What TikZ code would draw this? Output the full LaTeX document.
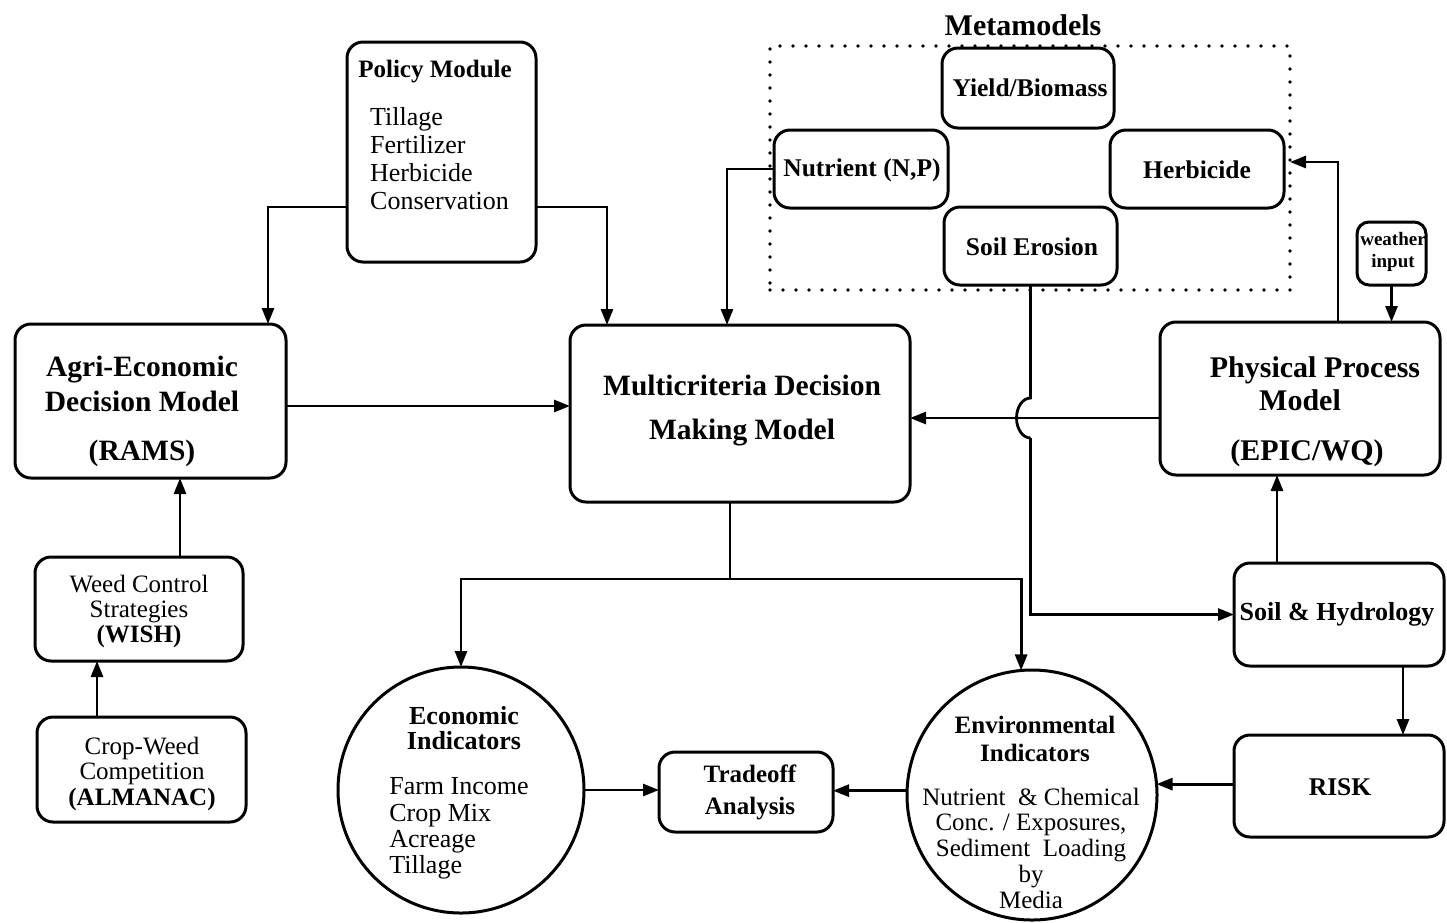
\documentclass[tikz,border=0pt]{standalone}
\usepackage{fontspec}
\setmainfont{Liberation Serif}
\usetikzlibrary{arrows.meta,calc}
\newcommand\myfs[2]{\fontsize{#1}{#2}\selectfont}
\begin{document}
\begin{tikzpicture}[x=1pt,y=-1pt,
  box/.style={draw, line width=3pt, rounded corners=16pt, inner sep=0pt, outer sep=0pt},
  circ/.style={draw, circle, line width=3pt, inner sep=0pt, outer sep=0pt},
  ln/.style={line width=2.8pt},
  arr/.style={line width=2.8pt, -{Triangle[length=16pt,width=12pt]}},
  txt/.style={inner sep=0pt, outer sep=0pt, align=center},
  dotbox/.style={draw, line width=3.8pt, line cap=round, dash pattern=on 0pt off 13pt, inner sep=0pt, outer sep=0pt}]
\useasboundingbox (0,0) rectangle (1447,922);

% ---------- boxes ----------
\node[box, minimum width=189pt, minimum height=220pt] (policy) at (441.5,152) {};
\node[dotbox, minimum width=520pt, minimum height=244pt] (meta) at (1030,168) {};
\node[box, minimum width=172pt, minimum height=80pt] (yield) at (1028,88) {};
\node[box, minimum width=174pt, minimum height=78pt] (nutr) at (861,169) {};
\node[box, minimum width=174pt, minimum height=78pt] (herb) at (1197,169) {};
\node[box, minimum width=173pt, minimum height=78pt] (erosion) at (1030.5,246) {};
\node[box, minimum width=271pt, minimum height=154pt] (agri) at (150.5,401) {};
\node[box, minimum width=340pt, minimum height=177pt] (multi) at (740,413.5) {};
\node[box, minimum width=280pt, minimum height=153pt] (phys) at (1300,398.5) {};
\node[box, rounded corners=12pt, minimum width=69pt, minimum height=63pt] (weather) at (1391.5,253.5) {};
\node[box, minimum width=210pt, minimum height=103pt] (soilhyd) at (1339,614.5) {};
\node[box, minimum width=210pt, minimum height=102pt] (risk) at (1339,786) {};
\node[box, minimum width=208pt, minimum height=104pt] (weed) at (139,609) {};
\node[box, minimum width=209pt, minimum height=105pt] (crop) at (141.5,769.5) {};
\node[box, minimum width=174pt, minimum height=80pt] (trade) at (746,792) {};
\node[circ, minimum size=246pt] (econ) at (461,790) {};
\node[circ, minimum size=250pt] (env) at (1032,795) {};

% ---------- texts ----------
\node[txt, font=\bfseries\myfs{30}{34}] (tmeta) at (1023,25) {Metamodels};
\node[txt, font=\bfseries\myfs{25}{28}] (tpol) at (435,72) {Policy Module};
\node[txt, align=left, font=\myfs{26}{28}] (tpoll) at (439.5,159) {Tillage\\Fertilizer\\Herbicide\\Conservation};
\node[txt, font=\bfseries\myfs{25.5}{28}] (tyield) at (1030,88) {Yield/Biomass};
\node[txt, font=\bfseries\myfs{25.5}{28}] (tnutr) at (862,170) {Nutrient (N,P)};
\node[txt, font=\bfseries\myfs{25.5}{28}] (therb) at (1197,170) {Herbicide};
\node[txt, font=\bfseries\myfs{25.5}{28}] (teros) at (1032,247) {Soil Erosion};
\node[txt, font=\bfseries\myfs{29.5}{35}] (tagri) at (142,384) {Agri-Economic\\Decision Model};
\node[txt, font=\bfseries\myfs{29.5}{35}] (trams) at (142,453) {(RAMS)};
\node[txt, font=\bfseries\myfs{29.5}{44}] (tmulti) at (742,411) {Multicriteria Decision\\Making Model};
\node[txt, font=\bfseries\myfs{30}{34}] (tphys1) at (1315,370) {Physical Process};
\node[txt, font=\bfseries\myfs{30}{34}] (tphys2) at (1300,400) {Model};
\node[txt, font=\bfseries\myfs{30}{34}] (tphys3) at (1307,453) {(EPIC/WQ)};
\node[txt, font=\bfseries\myfs{19}{22}] (tweather) at (1393,252) {weather\\input};
\node[txt, font=\bfseries\myfs{26}{28}] (tsoil) at (1337,614) {Soil \& Hydrology};
\node[txt, font=\bfseries\myfs{25.5}{28}] (trisk) at (1340,787) {RISK};
\node[txt, font=\myfs{25}{25}] (tweed) at (139,611) {Weed Control\\Strategies\\\textbf{(WISH)}};
\node[txt, font=\myfs{25}{25.5}] (tcrop) at (142,773.5) {Crop-Weed\\Competition\\\textbf{(ALMANAC)}};
\node[txt, font=\bfseries\myfs{26}{25}] (tecon) at (464,728) {Economic\\Indicators};
\node[txt, align=left, font=\myfs{26}{26.3}] (tecol) at (459,828.5) {Farm Income\\Crop Mix\\Acreage\\Tillage};
\node[txt, font=\bfseries\myfs{25}{32}] (ttrade) at (750,792) {Tradeoff\\Analysis};
\node[txt, font=\bfseries\myfs{25}{28}] (tenv) at (1035,739) {Environmental\\Indicators};
\node[txt, font=\myfs{25}{25.75}] (tenvl) at (1031,848) {Nutrient\ \ \& Chemical\\Conc. / Exposures,\\Sediment\ \ Loading\\by\\Media};

% ---------- connectors ----------
\coordinate (pw) at ($(policy.west)+(0,55)$);
\coordinate (pe) at ($(policy.east)+(0,55)$);
\coordinate (an) at ($(agri.north west)+(253,0)$);
\coordinate (mn1) at ($(multi.north west)+(37,0)$);
\coordinate (mn2) at ($(multi.north west)+(157,0)$);
\draw[arr] (pw) -| (an);
\draw[arr] (pe) -| (mn1);
\draw[arr] (nutr.west) -| (mn2);

\coordinate (ae) at ($(agri.east)+(0,5)$);
\draw[arr] (ae) -- (ae -| multi.west);

\coordinate (hy) at (0,418);
\draw[arr] (phys.west |- hy) -- (multi.east |- hy);

% line from Soil Erosion with a hop over the horizontal line
\coordinate (hop) at (erosion.south |- hy);
\draw[ln] (erosion.south) -- ($(hop)+(0,-20)$)
  arc[start angle=270, end angle=90, x radius=14, y radius=20];
\draw[arr] ($(hop)+(0,20)$) |- (soilhyd.west);

\coordinate (pn) at ($(phys.north west)+(178,0)$);
\draw[arr] (pn) |- ($(meta.east)+(0,-6)$);
\draw[arr] (weather.south) -- (weather.south |- phys.north);

\coordinate (sn) at ($(soilhyd.north west)+(43,0)$);
\draw[arr] (sn) -- (sn |- phys.south);
\coordinate (ss) at ($(soilhyd.south west)+(169,0)$);
\draw[arr] (ss) -- (ss |- risk.north);

\draw[arr] (risk.west |- env.5) -- (env.5);
\draw[arr] (env.178) -- (env.178 -| trade.east);
\draw[arr] (econ.east) -- (econ.east -| trade.west);

\coordinate (ms) at ($(multi.south)+(-10,0)$);
\coordinate (split) at ($(ms)+(0,77)$);
\draw[ln] (ms) -- (split);
\draw[arr] (split) -| (econ.north);
\draw[arr] (split) -| (env.95);

\coordinate (wn) at ($(weed.north west)+(145,0)$);
\draw[arr] (wn) -- (wn |- agri.south);
\coordinate (cn) at ($(crop.north west)+(60,0)$);
\draw[arr] (cn) -- (cn |- weed.south);
\end{tikzpicture}
\end{document}
